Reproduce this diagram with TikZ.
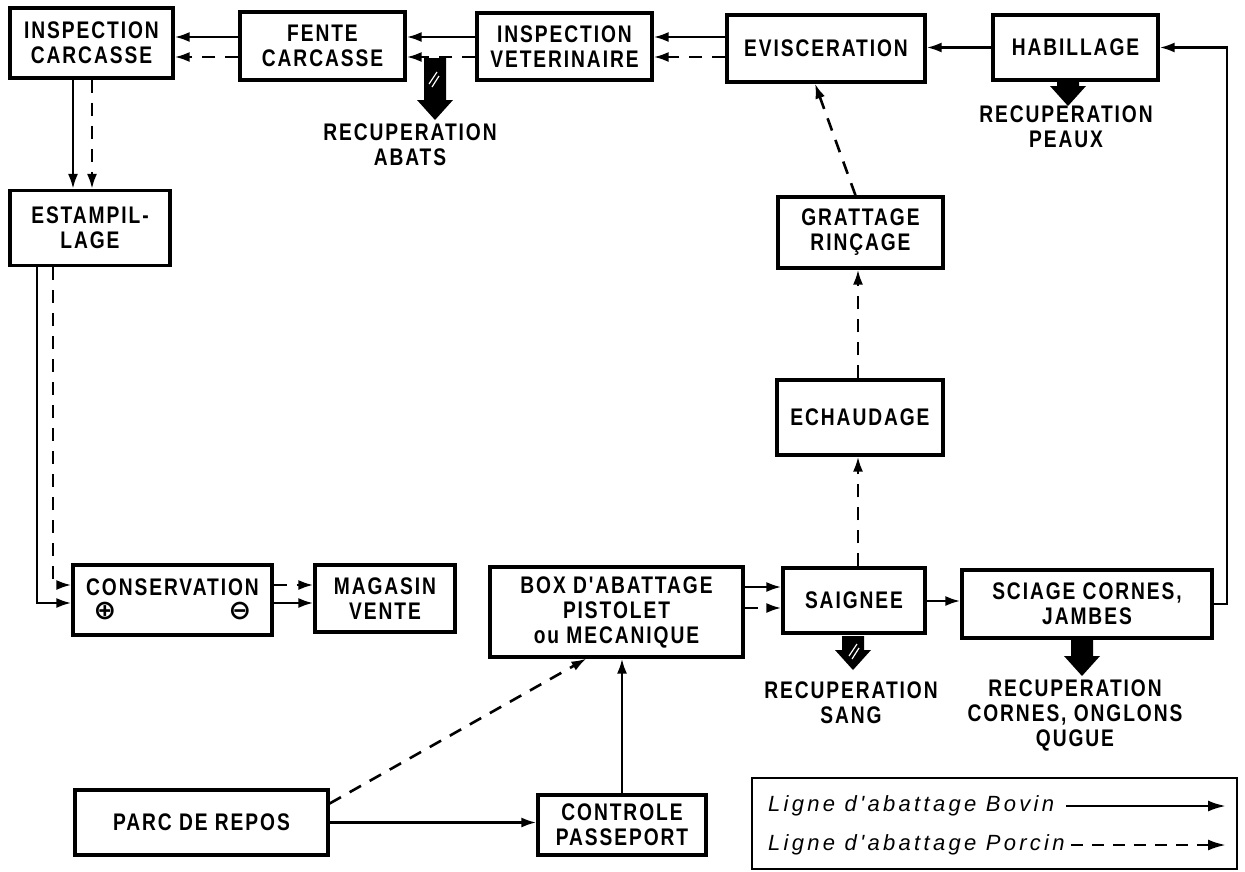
\documentclass[tikz,border=0pt]{standalone}
\usepackage{fontspec}
\setmainfont{Liberation Sans}
\newfontfamily\stencil{Liberation Sans}[LetterSpace=8, FakeStretch=0.8]
\newfontfamily\symfont{DejaVu Sans}
\newfontfamily\legfont{Liberation Sans}[LetterSpace=15]
\usetikzlibrary{arrows.meta}
\newcommand\boxfont{\stencil\bfseries\fontsize{24}{25}\selectfont}
\newcommand\blockarr[3]{% x, top, tip
  \fill ({#1-11},#2) -- ({#1+11},#2) -- ({#1+11},{#3-20}) -- ({#1+18},{#3-20}) -- (#1,#3) -- ({#1-18},{#3-20}) -- ({#1-11},{#3-20}) -- cycle;}
\newcommand\hatch[2]{% x, y
  \draw[white, line width=1.2pt] ({#1-4},{#2+6}) -- ({#1+4},{#2-6});
  \draw[white, line width=1.2pt] ({#1-1},{#2+9}) -- ({#1+6},{#2-2});}
\begin{document}
\begin{tikzpicture}[x=1pt,y=-1pt,
  box/.style={draw, line width=3.2pt, inner sep=2pt, align=center, font=\boxfont},
  lbl/.style={align=center, font=\boxfont, inner sep=0pt},
  bov/.style={line width=2.6pt, -{Latex[length=15pt,width=10pt]}},
  por/.style={bov, dash pattern=on 13pt off 10pt},
  sym/.style={font=\symfont\bfseries\fontsize{27}{27}\selectfont, inner sep=0pt},
  legarr/.style={line width=2.6pt, -{Latex[length=18pt,width=11pt]}}]
\useasboundingbox (0,0) rectangle (1245,871);
% boxes
\node[box, minimum width=163pt, minimum height=70pt] (ic) at (91.5,43) {INSPECTION\\CARCASSE};
\node[box, minimum width=165pt, minimum height=68pt] (fc) at (322.5,46) {FENTE\\CARCASSE};
\node[box, minimum width=175pt, minimum height=67pt] (iv) at (564.5,46.5) {INSPECTION\\VETERINAIRE};
\node[box, minimum width=198pt, minimum height=67pt] (ev) at (826,48.5) {EVISCERATION};
\node[box, minimum width=165pt, minimum height=65pt] (hab) at (1075.5,47.5) {HABILLAGE};
\node[box, minimum width=160pt, minimum height=75pt] (est) at (90,228) {ESTAMPIL-\\LAGE};
\node[box, minimum width=165pt, minimum height=71pt] (gr) at (860.5,232.5) {GRATTAGE\\RINÇAGE};
\node[box, minimum width=166pt, minimum height=75pt] (ech) at (860,417.5) {ECHAUDAGE};
\node[box, minimum width=199pt, minimum height=70pt] (cons) at (172.5,600) {CONSERVATION\\[1pt]\mbox{}};
\node[box, minimum width=140pt, minimum height=67pt] (mag) at (385,598.5) {MAGASIN\\VENTE};
\node[box, minimum width=253pt, minimum height=90pt] (box) at (616.5,612) {BOX D'ABATTAGE\\PISTOLET\\ou MECANIQUE};
\node[box, minimum width=142pt, minimum height=65pt] (sai) at (854,600.5) {SAIGNEE};
\node[box, minimum width=250pt, minimum height=68pt] (sci) at (1087,604) {SCIAGE CORNES,\\JAMBES};
\node[box, minimum width=253pt, minimum height=65pt] (parc) at (201.5,822.5) {PARC DE REPOS};
\node[box, minimum width=168pt, minimum height=60pt] (ctrl) at (622,825) {CONTROLE\\PASSEPORT};
\node[sym] (plus) at (105,611) {⊕};
\node[sym] (minus) at (240,611) {⊖};
% labels
\node[lbl] (rabats) at (410,145) {RECUPERATION\\ABATS};
\node[lbl] (rpeaux) at (1066,127) {RECUPERATION\\PEAUX};
\node[lbl] (rsang) at (851,703) {RECUPERATION\\SANG};
\node[lbl] (rcornes) at (1075,715) {RECUPERATION\\CORNES, ONGLONS\\QUGUE};
% block arrows
\blockarr{435}{58}{120}\hatch{433}{78}
\blockarr{1068}{82}{106}
\blockarr{853}{636}{670}\hatch{853}{650}
\blockarr{1082}{640}{676}
% coordinates
\coordinate (ys) at (0,37);
\coordinate (yd) at (0,57);
\coordinate (xs) at (73,0);
\coordinate (xd) at (92,0);
\coordinate (xs2) at (37,603);
\coordinate (xd2) at (53,585);
\coordinate (rt) at (1227,47.5);
\coordinate (xv) at (858,0);
% top row
\draw[bov] (fc.west |- ys) -- (ic.east |- ys);
\draw[por] (fc.west |- yd) -- (ic.east |- yd);
\draw[bov] (iv.west |- ys) -- (fc.east |- ys);
\draw[por] (iv.west |- yd) -- (fc.east |- yd);
\draw[bov] (ev.west |- ys) -- (iv.east |- ys);
\draw[por] (ev.west |- yd) -- (iv.east |- yd);
\draw[bov] (hab.west) -- (ev.east |- hab.west);
\draw[bov] (sci.east) -| (rt) -- (hab.east);
% left column
\draw[bov] (ic.south -| xs) -- (est.north -| xs);
\draw[por] (ic.south -| xd) -- (est.north -| xd);
\draw[bov] (est.south -| xs2) -- (xs2) -- (cons.west |- xs2);
\draw[por] (est.south -| xd2) -- (xd2) -- (cons.west |- xd2);
\draw[por] (cons.east |- xd2) -- (mag.west |- xd2);
\draw[bov] (cons.east |- xs2) -- (mag.west |- xs2);
% middle
\draw[bov] (box.east |- 0,587) -- (sai.west |- 0,587);
\draw[por] (box.east |- 0,608) -- (sai.west |- 0,608);
\draw[bov] (sai.east |- 0,601) -- (sci.west |- 0,601);
\draw[por] (sai.north -| xv) -- (ech.south -| xv);
\draw[por] (ech.north -| xv) -- (gr.south -| xv);
\draw[por] ([xshift=-5pt]gr.north) -- ([xshift=-11pt]ev.south);
% bottom
\draw[bov] (parc.east) -- (ctrl.west |- parc.east);
\draw[por] ([yshift=19pt]parc.east) -- ([xshift=-30pt]box.south);
\draw[bov] (ctrl.north) -- (box.south -| ctrl.north);
% legend
\node[draw, line width=2pt, minimum width=485pt, minimum height=91pt, inner sep=0pt] (legend) at (994.5,823.5) {};
\node[font=\legfont\itshape\fontsize{22}{22}\selectfont, anchor=west, inner sep=0pt] (l1) at (768,806) {Ligne d'abattage Bovin};
\node[font=\legfont\itshape\fontsize{22}{22}\selectfont, anchor=west, inner sep=0pt] (l2) at (768,845) {Ligne d'abattage Porcin};
\coordinate (l1e) at (1226,806);
\coordinate (l2e) at (1226,845);
\draw[legarr] ([xshift=12pt]l1.east) -- (l1e);
\draw[legarr, dash pattern=on 12pt off 9pt] ([xshift=6pt]l2.east) -- (l2e);
\end{tikzpicture}
\end{document}
